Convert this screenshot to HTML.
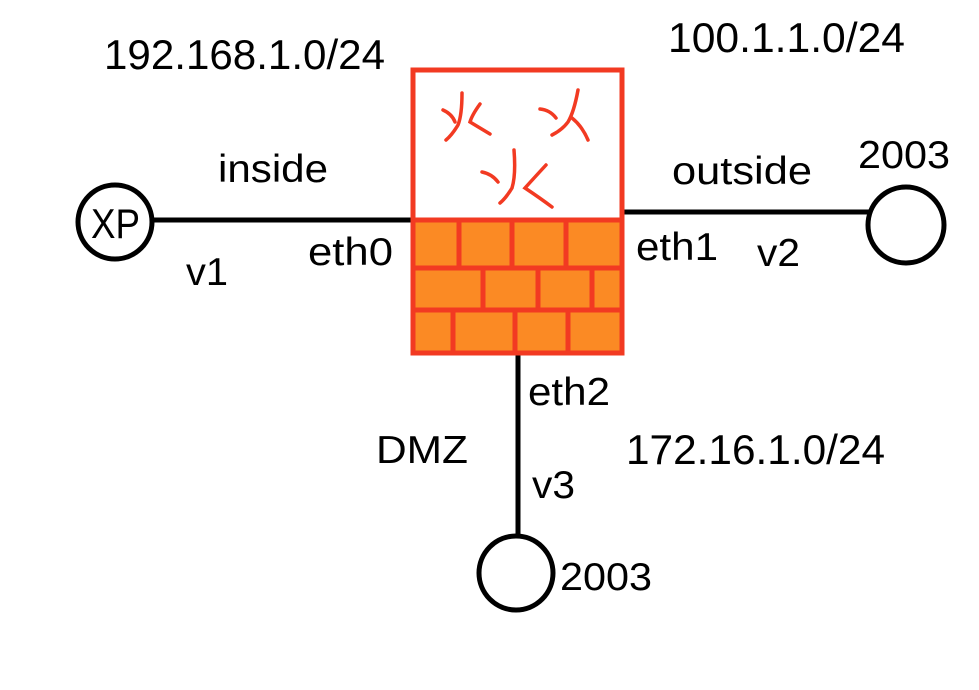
<!DOCTYPE html>
<html><head><meta charset="utf-8"><style>
html,body{margin:0;padding:0;background:#fff;}
svg{display:block;}
text{font-family:"Liberation Sans","Noto Sans CJK SC",sans-serif;fill:#000;}
</style></head><body>
<svg width="979" height="690" viewBox="0 0 979 690" xmlns="http://www.w3.org/2000/svg">
<rect width="979" height="690" fill="#fff"/>
<g stroke="#000" stroke-width="5" fill="none">
<line x1="152" y1="220" x2="413" y2="220"/>
<line x1="622" y1="212" x2="870" y2="212"/>
<line x1="518" y1="352" x2="518" y2="537"/>
<circle cx="115" cy="222" r="37"/>
<circle cx="906" cy="225" r="38"/>
<circle cx="516" cy="573" r="37"/>
</g>
<rect x="413" y="220" width="209" height="133" fill="#fb8a24"/>
<g stroke="#f23a22" stroke-width="5" fill="none">
<rect x="413" y="70" width="209" height="283"/>
<line x1="413" y1="220" x2="622" y2="220"/>
<line x1="413" y1="268" x2="622" y2="268"/>
<line x1="413" y1="310" x2="622" y2="310"/>
<line x1="459" y1="220" x2="459" y2="268"/>
<line x1="512" y1="220" x2="512" y2="268"/>
<line x1="566" y1="220" x2="566" y2="268"/>
<line x1="483" y1="268" x2="483" y2="310"/>
<line x1="538" y1="268" x2="538" y2="310"/>
<line x1="592" y1="268" x2="592" y2="310"/>
<line x1="453" y1="310" x2="453" y2="353"/>
<line x1="515" y1="310" x2="515" y2="353"/>
<line x1="568" y1="310" x2="568" y2="353"/>
</g>
<g stroke="#f23a22" stroke-width="3.5" fill="none" stroke-linecap="round">
<path d="M443 110 Q452 114 455 122"/>
<path d="M462 93 Q462 115 458 125 Q452 135 446 140"/>
<path d="M480 104 Q472 115 470 122 Q480 128 490 134"/>
<path d="M540 109 Q550 110 556 118"/>
<path d="M578 90 Q574 112 568 122 Q562 130 552 135"/>
<path d="M572 118 Q582 126 588 140"/>
<path d="M482 172 Q492 174 498 182"/>
<path d="M514 150 Q516 175 512 188 Q506 198 500 203"/>
<path d="M546 165 Q534 178 525 188 Q540 198 552 207"/>
</g>
<g font-size="42">
<text x="104" y="69" textLength="281" lengthAdjust="spacingAndGlyphs">192.168.1.0/24</text>
<text x="668" y="52" textLength="237" lengthAdjust="spacingAndGlyphs">100.1.1.0/24</text>
<text x="626" y="464" textLength="259" lengthAdjust="spacingAndGlyphs">172.16.1.0/24</text>
</g>
<g font-size="39">
<text x="218" y="182" textLength="110" lengthAdjust="spacingAndGlyphs">inside</text>
<text x="672" y="184" textLength="140" lengthAdjust="spacingAndGlyphs">outside</text>
<text x="858" y="168" textLength="92" lengthAdjust="spacingAndGlyphs">2003</text>
<text x="91" y="238" font-size="42" textLength="49" lengthAdjust="spacingAndGlyphs">XP</text>
<text x="186" y="285" textLength="42" lengthAdjust="spacingAndGlyphs">v1</text>
<text x="308" y="265" textLength="85" lengthAdjust="spacingAndGlyphs">eth0</text>
<text x="636" y="260" textLength="82" lengthAdjust="spacingAndGlyphs">eth1</text>
<text x="757" y="266" textLength="43" lengthAdjust="spacingAndGlyphs">v2</text>
<text x="528" y="405" textLength="82" lengthAdjust="spacingAndGlyphs">eth2</text>
<text x="376" y="463" textLength="92" lengthAdjust="spacingAndGlyphs">DMZ</text>
<text x="532" y="498" textLength="43" lengthAdjust="spacingAndGlyphs">v3</text>
<text x="560" y="590" textLength="92" lengthAdjust="spacingAndGlyphs">2003</text>
</g>
</svg>
</body></html>
